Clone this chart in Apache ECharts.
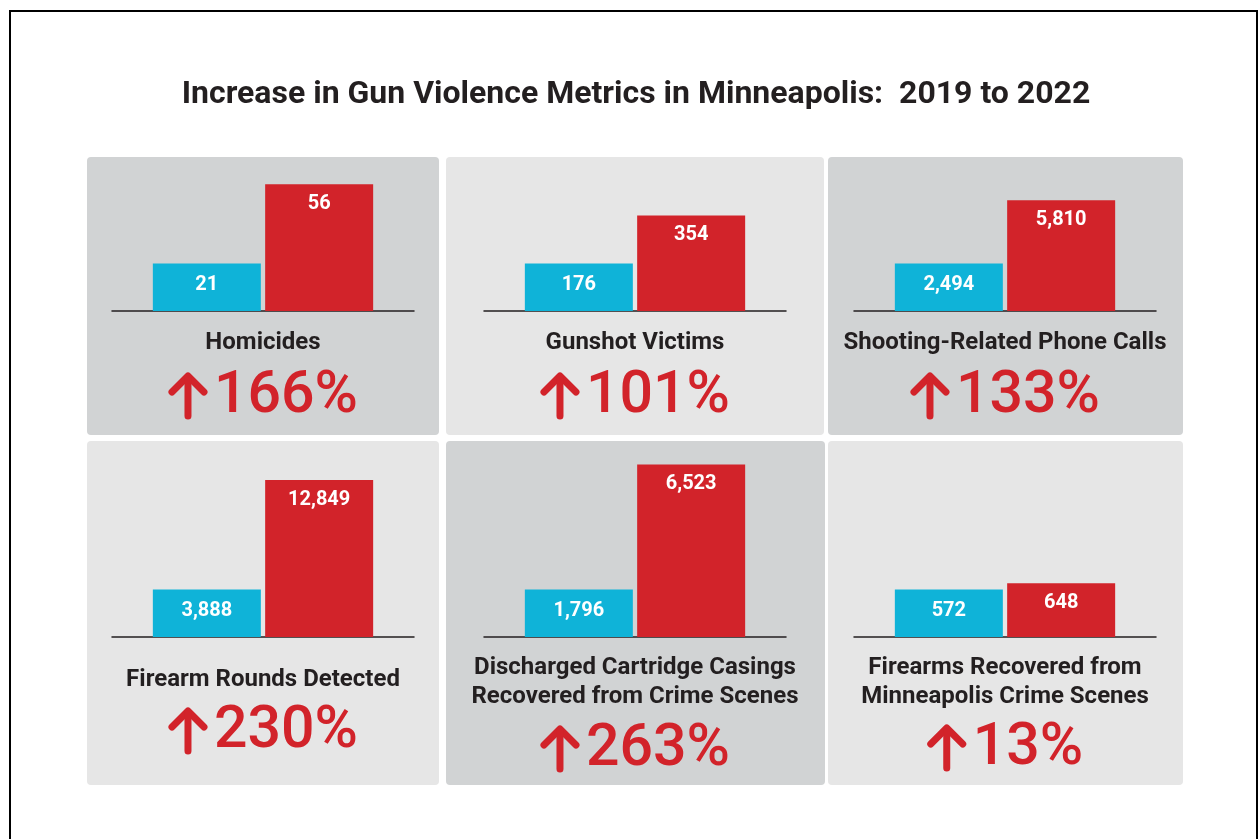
<!DOCTYPE html>
<html>
<head>
    <meta charset="utf-8" />
    <title>Gun Violence Metrics in Minneapolis</title>
    <script type="text/javascript" src="https://cdn.jsdelivr.net/npm/echarts@6/dist/echarts.min.js"></script>
    <style>
        html, body { margin: 0; padding: 0; background: #fff; }
        #main { width: 1259px; height: 839px; }
    </style>
</head>
<body>
    <div id="main"></div>
    <script type="text/javascript">
        // data
        var metrics = ['Homicides', 'Gunshot Victims', 'Shooting-Related Phone Calls', 'Firearm Rounds Detected',
            'Discharged Cartridge Casings\nRecovered from Crime Scenes', 'Firearms Recovered from\nMinneapolis Crime Scenes'];
        var years = ['2019', '2022'];
        var values2019 = [21, 176, 2494, 3888, 1796, 572];
        var values2022 = [56, 354, 5810, 12849, 6523, 648];
        var pctLabels = ['166%', '101%', '133%', '230%', '263%', '13%'];

        var RED = '#d2232a', BLUE = '#0fb3d8', INK = '#231f20';
        var FONT = 'Roboto';

        // panel boxes [x, y, w, h], bar baseline / label positions
        var panels = [
            [87, 157, 352, 278], [446, 157, 378, 278], [828, 157, 355, 278],
            [87, 441, 352, 344], [446, 441, 379, 344], [828, 441, 355, 344]
        ];
        var panelFill = ['#d1d3d4', '#e6e6e6', '#d1d3d4', '#e6e6e6', '#d1d3d4', '#e6e6e6'];
        var centers = [263, 635, 1005];
        var base = [311, 637];
        var plotH = [140, 185];
        var blueH = 47.5;
        var labelY = [343, 343, 343, 680, 682, 682];
        var pctY = [397, 397, 397, 732, 750, 749];

        var ctx = document.createElement('canvas').getContext('2d');
        ctx.font = '500 59px ' + FONT;

        var grids = [], xAxes = [], yAxes = [], series = [];
        var graphics = [
            { type: 'rect', z: -10, shape: { x: 10, y: 11, width: 1247, height: 900 },
              style: { fill: '#fff', stroke: '#000', lineWidth: 2 } },
            { type: 'text', x: 636, y: 95, z: 5,
              style: { text: 'Increase in Gun Violence Metrics in Minneapolis:  2019 to 2022', fill: INK,
                       font: 'bold 32px ' + FONT, align: 'center', verticalAlign: 'middle' } }
        ];

        metrics.forEach(function (name, i) {
            var row = i < 3 ? 0 : 1, cx = centers[i % 3], p = panels[i];
            graphics.push({ type: 'rect', z: -5, shape: { x: p[0], y: p[1], width: p[2], height: p[3], r: 4 },
                style: { fill: panelFill[i] } });
            grids.push({ left: cx - 151, width: 302, top: base[row] - plotH[row], height: plotH[row] });
            xAxes.push({ type: 'category', gridIndex: i, data: [name],
                axisLine: { lineStyle: { color: INK, width: 1.5 } },
                axisTick: { show: false }, axisLabel: { show: false } });
            yAxes.push({ type: 'value', gridIndex: i, min: 0, max: values2019[i] * plotH[row] / blueH, show: false,
                splitLine: { show: false } });
            [values2019, values2022].forEach(function (vals, k) {
                series.push({
                    type: 'bar', name: years[k], xAxisIndex: i, yAxisIndex: i,
                    data: [vals[i]], barWidth: 108, barGap: '4%',
                    itemStyle: { color: k ? RED : BLUE },
                    label: {
                        show: true, position: 'insideTop', distance: k ? 10 : 11,
                        color: '#fff', fontFamily: FONT, fontWeight: 'bold', fontSize: 20,
                        formatter: function (o) { return echarts.format.addCommas(o.value); }
                    }
                });
            });

            // metric name
            graphics.push({ type: 'text', x: cx, y: labelY[i], z: 5,
                style: { text: name, fill: INK, font: 'bold 24px ' + FONT, lineHeight: 29,
                         align: 'center', verticalAlign: 'middle' } });

            // arrow + percent
            var w = ctx.measureText(pctLabels[i]).width;
            var x0 = cx - (46 + w) / 2;
            var ax = x0 + 20, top = pctY[i] - 24, bot = pctY[i] + 22;
            graphics.push({ type: 'polyline', z: 5, shape: { points: [[ax - 16, top + 19], [ax, top + 3], [ax + 16, top + 19]] },
                style: { stroke: RED, lineWidth: 7, lineCap: 'round', lineJoin: 'round', fill: null } });
            graphics.push({ type: 'line', z: 5, shape: { x1: ax, y1: top + 4, x2: ax, y2: bot - 3 },
                style: { stroke: RED, lineWidth: 7, lineCap: 'round' } });
            graphics.push({ type: 'text', x: x0 + 46, y: pctY[i], z: 5,
                style: { text: pctLabels[i], fill: RED, font: '500 59px ' + FONT,
                         align: 'left', verticalAlign: 'middle' } });
        });

        var myChart = echarts.init(document.getElementById('main'), null, { renderer: 'canvas' });
        var option = {
            animation: false,
            backgroundColor: '#fff',
            grid: grids,
            xAxis: xAxes,
            yAxis: yAxes,
            series: series,
            graphic: { elements: graphics }
        };
        option && myChart.setOption(option);
    </script>
</body>
</html>
